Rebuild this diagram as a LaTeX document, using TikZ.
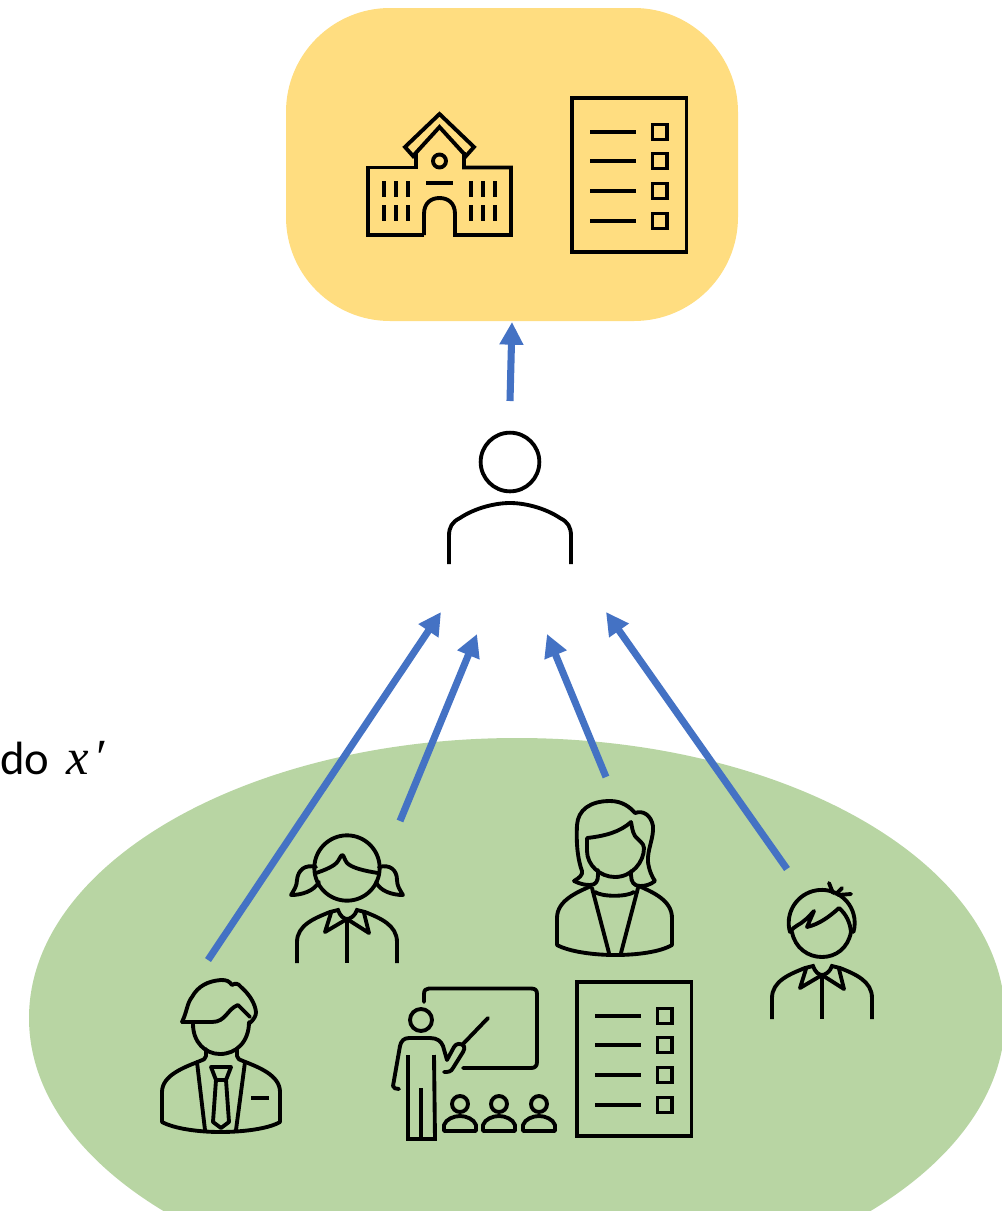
\documentclass[tikz,border=0pt]{standalone}
\usepackage{fontspec}
\setmainfont{Carlito}
\newfontfamily\varfont{Liberation Serif}
\usetikzlibrary{arrows.meta,shapes.geometric}
\definecolor{boxyellow}{HTML}{FFDD80}
\definecolor{groupgreen}{HTML}{B8D5A3}
\definecolor{arrowblue}{HTML}{4472C4}
\tikzset{
  icon/.style={line width=2.9pt,line join=round,line cap=round,draw=black},
  iconb/.style={icon,line cap=butt,line join=miter},
  flow/.style={draw=arrowblue,line width=5.3pt,-{Triangle[length=17pt,width=17pt]},shorten >=0pt},
  checklist/.pic={
    \draw[iconb] (572,98) rectangle (686.5,252);
    \foreach \yy in {132,161,191,221}{
      \draw[iconb] (590,\yy) -- (636,\yy);
      \draw[iconb] (652.5,\yy-7.5) rectangle (667,\yy+7.5);
    }
  },
  kidbody/.pic={
    \draw[iconb] (297,963) -- (297,942) .. controls (297,925) and (315,918) .. (330,912) -- (338,910)
       .. controls (340,916) and (344,919) .. (347,919) .. controls (350,919) and (355,916) .. (357,910) -- (365,912)
       .. controls (380,918) and (397,925) .. (397,942) -- (397,963);
    \draw[icon] (331,913) -- (325,932) -- (347,919) -- (369,933) -- (364,913);
    \draw[iconb] (347,919) -- (347,963);
  }
}
\begin{document}
\begin{tikzpicture}[x=0.75pt,y=-0.75pt]
\clip (0,0) rectangle (1002,1211);
% backgrounds
\node[ellipse,fill=groupgreen,inner sep=0pt,minimum width=732pt,minimum height=420pt] (group) at (517,1018) {};
\node[rectangle,fill=boxyellow,rounded corners=78pt,inner sep=0pt,minimum width=339pt,minimum height=234.75pt] (panel) at (512,164.5) {};
% text
\node[anchor=base west,inner sep=0pt,font=\fontsize{35}{40}\selectfont] (dolabel) at (0,774) {do\hspace{12.5pt}{\varfont\fontsize{38}{40}\selectfont\itshape x\hspace{4pt}′}};
% school
\draw[iconb] (424,235) -- (368,235) -- (368,167.5) -- (416,167.5) -- (416,152);
\draw[iconb] (464,152) -- (464,167.5) -- (511,167.5) -- (511,235) -- (455,235) -- (455,214)
   .. controls (455,203) and (448,198) .. (439.5,198) .. controls (431,198) and (424,203) .. (424,214) -- (424,235);
\draw[iconb] (413,156) -- (405,147) -- (439.5,114) -- (474,147) -- (466,156) -- (439.5,127) -- cycle;
\draw[iconb] (439.5,161) circle (6.5);
\draw[iconb] (426,183) -- (453,183);
\foreach \xx in {384,396,408,471,483,495}{
  \draw[iconb] (\xx,181) -- (\xx,197);
  \draw[iconb] (\xx,205) -- (\xx,221);
}
% checklists
\pic {checklist};
\pic[xshift=3.75pt,yshift=-663pt] {checklist};
% central person
\node[circle,draw=black,line width=2.9pt,minimum size=44pt,inner sep=0pt] (reviewer) at (510,462) {};
\draw[iconb] (449,564) -- (449,536) .. controls (449,527) and (452,522) .. (460,518) .. controls (475,508) and (495,503) .. (510,503)
   .. controls (525,503) and (545,508) .. (560,518) .. controls (568,522) and (571,527) .. (571,536) -- (571,564);
% man
\draw[icon] (182,1022) .. controls (187,1012) and (187,1003) .. (192,997) .. controls (198,986) and (208,981) .. (221,980)
   .. controls (227,980) and (229,981) .. (232,985) .. controls (235,983) and (238,983) .. (241,987) .. controls (249,994) and (255,1003) .. (256,1012)
   .. controls (256,1016) and (254,1019) .. (250,1023);
\draw[icon] (182,1022) -- (212,1022) .. controls (226,1022) and (227,1009) .. (238,1005) -- (250,1017);
\draw[icon] (193,1024) .. controls (193,1042) and (205,1054) .. (220,1054) .. controls (236,1054) and (249,1042) .. (249,1022);
\draw[icon] (206,1049) -- (206,1056) .. controls (206,1059) and (203,1060) .. (200,1061) .. controls (185,1067) and (162,1075) .. (162,1092)
   -- (162,1122) .. controls (175,1129) and (200,1132) .. (220,1132) .. controls (242,1132) and (268,1129) .. (280,1122) -- (280,1092)
   .. controls (280,1075) and (258,1067) .. (243,1061) .. controls (240,1060) and (237,1059) .. (237,1056) -- (237,1049);
\draw[icon] (197,1062) -- (205,1130);
\draw[icon] (245,1062) -- (236,1130);
\draw[icon] (211,1067) -- (231,1067) -- (226,1080) -- (216,1080) -- cycle;
\draw[icon] (216,1080) -- (213,1122) -- (221,1128) -- (229,1122) -- (226,1080);
\draw[iconb] (251,1098) -- (269,1098);
% girl
\node[circle,draw=black,line width=2.9pt,minimum size=49pt,inner sep=0pt] (girlhead) at (347,868) {};
\draw[icon] (316,873) .. controls (325,870) and (335,866) .. (338,861) .. controls (340,858) and (341,855) .. (342,855)
   .. controls (344,855) and (344,859) .. (347,863) .. controls (352,868) and (365,871) .. (378,873);
\draw[icon] (316,867) .. controls (305,864) and (298,870) .. (297,880) .. controls (297,886) and (294,890) .. (291,895)
   .. controls (302,895) and (314,891) .. (319,882);
\draw[icon] (379,867) .. controls (390,864) and (397,870) .. (397,880) .. controls (397,886) and (400,890) .. (403,895)
   .. controls (392,895) and (380,891) .. (376,882);
\pic {kidbody};
% boy
\draw[icon] (790,932) arc[start angle=164,end angle=376,radius=33];
\draw[icon] (792,932) .. controls (795,948) and (808,957) .. (822,957) .. controls (836,957) and (848,948) .. (851,932);
\draw[icon] (790,932) .. controls (795,925) and (800,925) .. (805,920) .. controls (808,918) and (811,914) .. (814,911)
   -- (807,927) .. controls (820,924) and (830,916) .. (839,908) .. controls (846,914) and (850,922) .. (851,932);
\draw[icon] (829,883) -- (833,893);
\draw[icon] (842,888) -- (836,894);
\draw[icon] (851,894) -- (838,895);
\pic[xshift=356.25pt,yshift=-42pt] {kidbody};
% woman
\draw[icon] (574,881) .. controls (579,878) and (583,875) .. (582,871) .. controls (578,860) and (576,845) .. (577,825)
   .. controls (578,810) and (590,801) .. (610,801) .. controls (622,801) and (630,807) .. (635,813)
   .. controls (643,810) and (651,815) .. (653,826) .. controls (654,838) and (647,850) .. (648,862) .. controls (649,870) and (652,877) .. (655,881)
   .. controls (650,885) and (645,886) .. (640,886) .. controls (634,886) and (631,882) .. (631,875) -- (631,871);
\draw[icon] (574,881) .. controls (580,884) and (585,885) .. (590,885) .. controls (596,885) and (598,881) .. (598,875) -- (598,870);
\draw[icon] (587,838) -- (587,851) .. controls (587,865) and (600,877) .. (615,877) .. controls (632,877) and (644,862) .. (644,848)
   .. controls (644,843) and (638,840) .. (635,836) .. controls (632,831) and (632,826) .. (631,822)
   .. controls (620,832) and (605,836) .. (587,838);
\draw[icon] (591,886) .. controls (578,892) and (557,900) .. (557,918) -- (557,945)
   .. controls (570,952) and (595,955) .. (615,955) .. controls (637,955) and (660,952) .. (672,945) -- (672,918)
   .. controls (672,900) and (652,892) .. (639,886);
\draw[icon] (595,892) .. controls (602,897) and (627,897) .. (634,892);
\draw[icon] (592,888) -- (609,953);
\draw[icon] (638,888) -- (621,953);
% teacher
\draw[icon] (424,1002) -- (424,994) .. controls (424,990) and (426,988.5) .. (429,988.5) -- (531,988.5)
   .. controls (535,988.5) and (537,990) .. (537,994) -- (537,1062) .. controls (537,1066) and (535,1068) .. (531,1068) -- (463,1068);
\draw[iconb] (421,1020) circle (11);
\draw[icon] (399,1089) .. controls (396,1089) and (393,1088) .. (393,1086) -- (400,1046) .. controls (401,1041) and (404,1038) .. (409,1038)
   -- (430,1038) .. controls (437,1038) and (441,1041) .. (443,1046) -- (447,1060) -- (454,1047) .. controls (456,1043) and (461,1043) .. (464,1046)
   .. controls (465,1048) and (464,1050) .. (463,1052) -- (453,1068) .. controls (451,1072) and (448,1072) .. (444,1072);
\draw[icon] (463,1044) -- (488,1018);
\draw[iconb] (408,1055) -- (408,1139) -- (435,1139) -- (434,1055);
\draw[iconb] (421,1088) -- (421,1139);
\foreach \xx in {460,499,539}{
  \draw[iconb] (\xx,1104) circle (8);
  \draw[iconb,line join=round] (\xx-16,1131) -- (\xx-16,1125) .. controls (\xx-14,1119) and (\xx-6,1116) .. (\xx,1116)
     .. controls (\xx+6,1116) and (\xx+14,1119) .. (\xx+16,1125) -- (\xx+16,1131) -- cycle;
}
% connector ends
\coordinate (a0s) at (510,401); \coordinate (a0e) at (512,322);
\coordinate (a1s) at (208,960); \coordinate (a1e) at (441,612);
\coordinate (a2s) at (400,821); \coordinate (a2e) at (477,634);
\coordinate (a3s) at (606,777); \coordinate (a3e) at (547,634);
\coordinate (a4s) at (787,869); \coordinate (a4e) at (606,612);
\draw[flow] (a0s) -- (a0e);
\draw[flow] (a1s) -- (a1e);
\draw[flow] (a2s) -- (a2e);
\draw[flow] (a3s) -- (a3e);
\draw[flow] (a4s) -- (a4e);
\end{tikzpicture}
\end{document}
